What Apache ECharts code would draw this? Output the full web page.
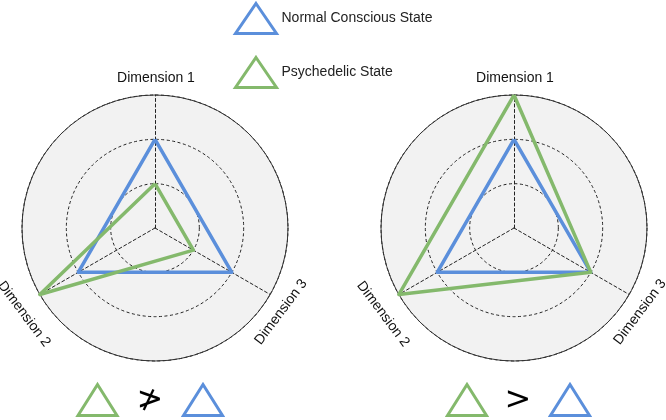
<!DOCTYPE html>
<html>
<head>
<meta charset="utf-8">
<script src="https://cdn.jsdelivr.net/npm/echarts@6/dist/echarts.min.js"></script>
<style>html,body{margin:0;padding:0;background:#fff;}#c{width:666px;height:420px;}</style>
</head>
<body>
<div id="c"></div>
<script>
// ---- data ----
const dims = ['Dimension 1', 'Dimension 2', 'Dimension 3'];
const stateNames = ['Normal Conscious State', 'Psychedelic State'];
const axisMax = 3;
const leftNormal = [2, 2, 2];
const leftPsychedelic = [1, 3, 1];
const rightNormal = [2, 2, 2];
const rightPsychedelic = [3, 3, 2];
const compareSymbols = ['≯', '>'];

// ---- layout / style ----
const BLUE = '#5b8fdb', GREEN = '#84b96c', INK = '#222';
const FONT = '"Liberation Sans", Arial, sans-serif';
const centers = [[155, 228], [514, 228]];
const R = 133;
const indicators = dims.map(n => ({ name: n, min: 0, max: axisMax }));

const radars = [];
centers.forEach(c => {
  radars.push({
    center: c, radius: R, startAngle: 90, shape: 'circle', splitNumber: 3,
    indicator: indicators,
    axisName: { show: false },
    splitLine: { lineStyle: { color: '#222', width: 1, type: [3, 2.5] } },
    splitArea: { show: true, areaStyle: { color: ['#f2f2f2'] } },
    axisLine: { lineStyle: { color: '#222', width: 1, type: [3, 2.5] } },
    axisTick: { show: false }, axisLabel: { show: false }
  });
  radars.push({
    center: c, radius: R, startAngle: 90, shape: 'circle', splitNumber: 1,
    indicator: indicators,
    axisName: { show: false },
    splitLine: { lineStyle: { color: '#333', width: 1, type: 'solid' } },
    splitArea: { show: false },
    axisLine: { show: false }, axisTick: { show: false }, axisLabel: { show: false }
  });
});

function item(name, vals, color) {
  return { name: name, value: vals, lineStyle: { color: color, width: 3.5 }, itemStyle: { color: color } };
}

const series = [
  { type: 'radar', radarIndex: 0, symbol: 'none', z: 5,
    data: [item(stateNames[0], leftNormal, BLUE), item(stateNames[1], leftPsychedelic, GREEN)] },
  { type: 'radar', radarIndex: 2, symbol: 'none', z: 5,
    data: [item(stateNames[0], rightNormal, BLUE), item(stateNames[1], rightPsychedelic, GREEN)] }
];

// axis name labels (rotated along circle)
const ROT = 53 * Math.PI / 180;
const labelOffsets = [[1, -150, 0], [-131, 86, -ROT], [126, 84, ROT]];
const graphic = [];
centers.forEach(c => {
  dims.forEach((d, i) => {
    const o = labelOffsets[i];
    graphic.push({
      type: 'text', x: c[0] + o[0], y: c[1] + o[1], rotation: o[2], z: 10,
      style: { text: d, font: '14px ' + FONT, fill: '#111', align: 'center', verticalAlign: 'middle' }
    });
  });
});

// comparison glyphs at bottom
function tri(cx, color) {
  return { type: 'polygon', z: 10,
    shape: { points: [[cx, 384.5], [cx + 19.5, 415.5], [cx - 19.5, 415.5]] },
    style: { fill: 'none', stroke: color, lineWidth: 3 } };
}
const groups = [[97.5, 150, 203], [467, 518, 570]];
groups.forEach((g, k) => {
  graphic.push(tri(g[0], GREEN));
  graphic.push(tri(g[2], BLUE));
  graphic.push({ type: 'text', x: g[1], y: 401, z: 10,
    style: { text: compareSymbols[k], font: 'normal 32px "DejaVu Sans", sans-serif', fill: '#000', align: 'center', verticalAlign: 'middle' } });
});

const chart = echarts.init(document.getElementById('c'), null, { renderer: 'canvas' });
chart.setOption({
  animation: false,
  backgroundColor: '#fff',
  textStyle: { fontFamily: FONT },
  legend: {
    orient: 'vertical', left: 234, top: 2, padding: 0,
    itemWidth: 41, itemHeight: 30, itemGap: 21, selectedMode: false,
    textStyle: { fontSize: 14, color: INK, fontFamily: FONT },
    data: [
      { name: stateNames[0], icon: 'path://M20.5,0L41,30L0,30Z',
        itemStyle: { color: 'transparent', borderColor: BLUE, borderWidth: 3 } },
      { name: stateNames[1], icon: 'path://M20.5,0L41,30L0,30Z',
        itemStyle: { color: 'transparent', borderColor: GREEN, borderWidth: 3 } }
    ]
  },
  radar: radars,
  series: series,
  graphic: graphic
});
</script>
</body>
</html>
